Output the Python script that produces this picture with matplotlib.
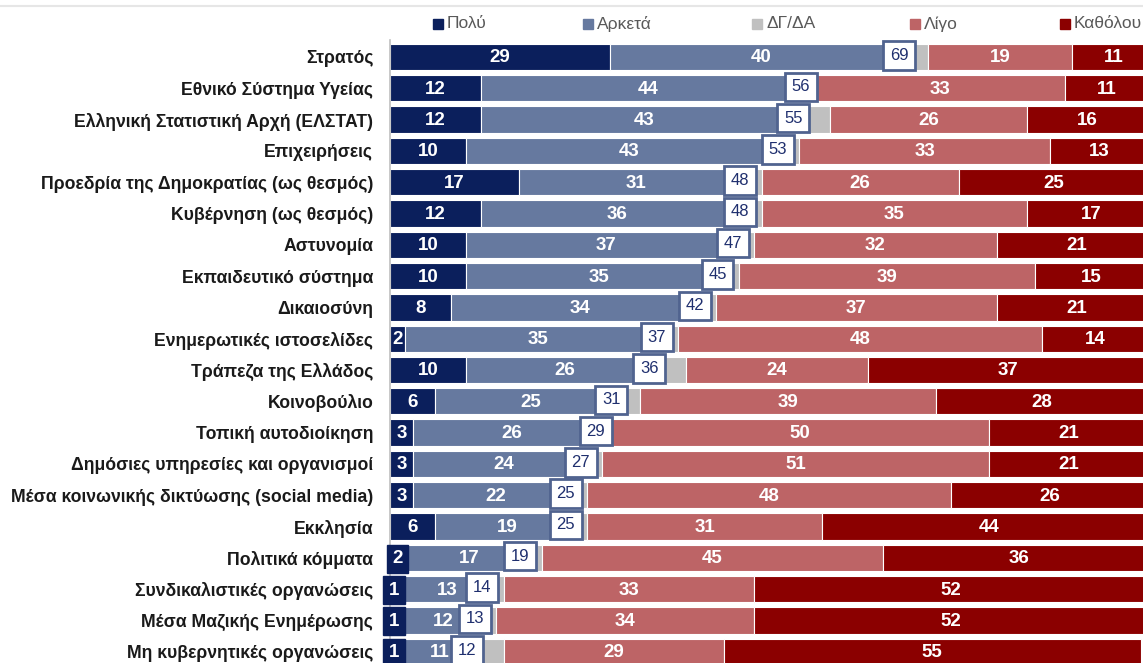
import matplotlib
matplotlib.use("Agg")
import matplotlib.pyplot as plt
from matplotlib import font_manager
import numpy as np

categories = ["Στρατός", "Εθνικό Σύστημα Υγείας", "Ελληνική Στατιστική Αρχή (ΕΛΣΤΑΤ)",
              "Επιχειρήσεις", "Προεδρία της Δημοκρατίας (ως θεσμός)", "Κυβέρνηση (ως θεσμός)",
              "Αστυνομία", "Εκπαιδευτικό σύστημα", "Δικαιοσύνη", "Ενημερωτικές ιστοσελίδες",
              "Τράπεζα της Ελλάδος", "Κοινοβούλιο", "Τοπική αυτοδιοίκηση",
              "Δημόσιες υπηρεσίες και οργανισμοί", "Μέσα κοινωνικής δικτύωσης (social media)",
              "Εκκλησία", "Πολιτικά κόμματα", "Συνδικαλιστικές οργανώσεις",
              "Μέσα Μαζικής Ενημέρωσης", "Μη κυβερνητικές οργανώσεις"]
polu     = [29, 12, 12, 10, 17, 12, 10, 10, 8, 2, 10, 6, 3, 3, 3, 6, 2, 1, 1, 1]
arketa   = [40, 44, 43, 43, 31, 36, 37, 35, 34, 35, 26, 25, 26, 24, 22, 19, 17, 13, 12, 11]
dk       = [2, 0, 3, 1, 1, 1, 1, 1, 1, 1, 3, 2, 0, 1, 1, 1, 1, 1, 1, 3]
ligo     = [19, 33, 26, 33, 26, 35, 32, 39, 37, 48, 24, 39, 50, 51, 48, 31, 45, 33, 34, 29]
katholou = [11, 11, 16, 13, 25, 17, 21, 15, 21, 14, 37, 28, 21, 21, 26, 44, 36, 52, 52, 55]
totals   = [69, 56, 55, 53, 48, 48, 47, 45, 42, 37, 36, 31, 29, 27, 25, 25, 19, 14, 13, 12]
series_names = ["Πολύ", "Αρκετά", "ΔΓ/ΔΑ", "Λίγο", "Καθόλου"]

colors = ["#0b1f5c", "#66799f", "#c0c0c0", "#bd6466", "#8b0000"]

names = {f.name for f in font_manager.fontManager.ttflist}
narrow = "Liberation Sans Narrow" if "Liberation Sans Narrow" in names else "Liberation Sans"
base = "Liberation Sans"

fig = plt.figure(figsize=(11.43, 6.63), dpi=100)
ax = fig.add_axes([390/1143, 0, 1 - 390/1143, 1 - 40/663])

y = np.arange(len(categories))
data = [polu, arketa, dk, ligo, katholou]
left = np.zeros(len(categories))
for vals, col, name in zip(data, colors, series_names):
    vals = np.array(vals, dtype=float)
    ax.barh(y, vals, left=left, height=0.84, color=col, edgecolor="white",
            linewidth=0.8, label=name)
    if name != "ΔΓ/ΔΑ":
        for yi, (l, v) in enumerate(zip(left, vals)):
            if v <= 0:
                continue
            kw = {}
            if name == "Πολύ" and v <= 2 and yi >= 15:
                kw = dict(bbox=dict(boxstyle="square,pad=0.3", fc=col, ec=col))
            ax.text(l + v / 2, yi + 0.03, f"{int(v)}", ha="center", va="center",
                    color="white", fontsize=13.5, fontweight="bold",
                    family=[narrow, "DejaVu Sans"], clip_on=False, **kw)
    left += vals

# total boxes
for yi, (p, a, t) in enumerate(zip(polu, arketa, totals)):
    ax.text(p + a - 0.6, yi - 0.05, f"{t}", ha="right", va="center", color="#1f2f6e",
            fontsize=12, family=[narrow, "DejaVu Sans"],
            bbox=dict(boxstyle="square,pad=0.4", fc="white", ec="#50638f", lw=2))

ax.set_xlim(0, 99.3)
ax.set_ylim(19.36, -0.543)
ax.set_yticks(y)
ax.set_yticklabels(categories, fontsize=12.7, fontweight="bold", color="#1a1a1a",
                   family=[base, "DejaVu Sans"])
ax.tick_params(axis="y", length=0, pad=12)
ax.set_xticks([])
for s in ["top", "right", "bottom"]:
    ax.spines[s].set_visible(False)
ax.spines["left"].set_color("#bfbfbf")
ax.spines["left"].set_linewidth(1.2)

# legend
leg_x = [433, 583, 752, 910, 1060]
for lx, col, name in zip(leg_x, colors, series_names):
    fig.patches.append(plt.Rectangle((lx / 1143, 1 - 29 / 663), 10 / 1143, 10 / 663,
                                     transform=fig.transFigure, color=col))
    fig.text((lx + 14) / 1143, 1 - 24 / 663, name, ha="left", va="center",
             fontsize=12.5, color="#595959", family=[narrow, "DejaVu Sans"])

fig.add_artist(plt.Line2D([0, 1], [1 - 6 / 663, 1 - 6 / 663], transform=fig.transFigure,
                          color="#e6e6e6", lw=1.5))

fig.savefig("out.png", dpi=100)
